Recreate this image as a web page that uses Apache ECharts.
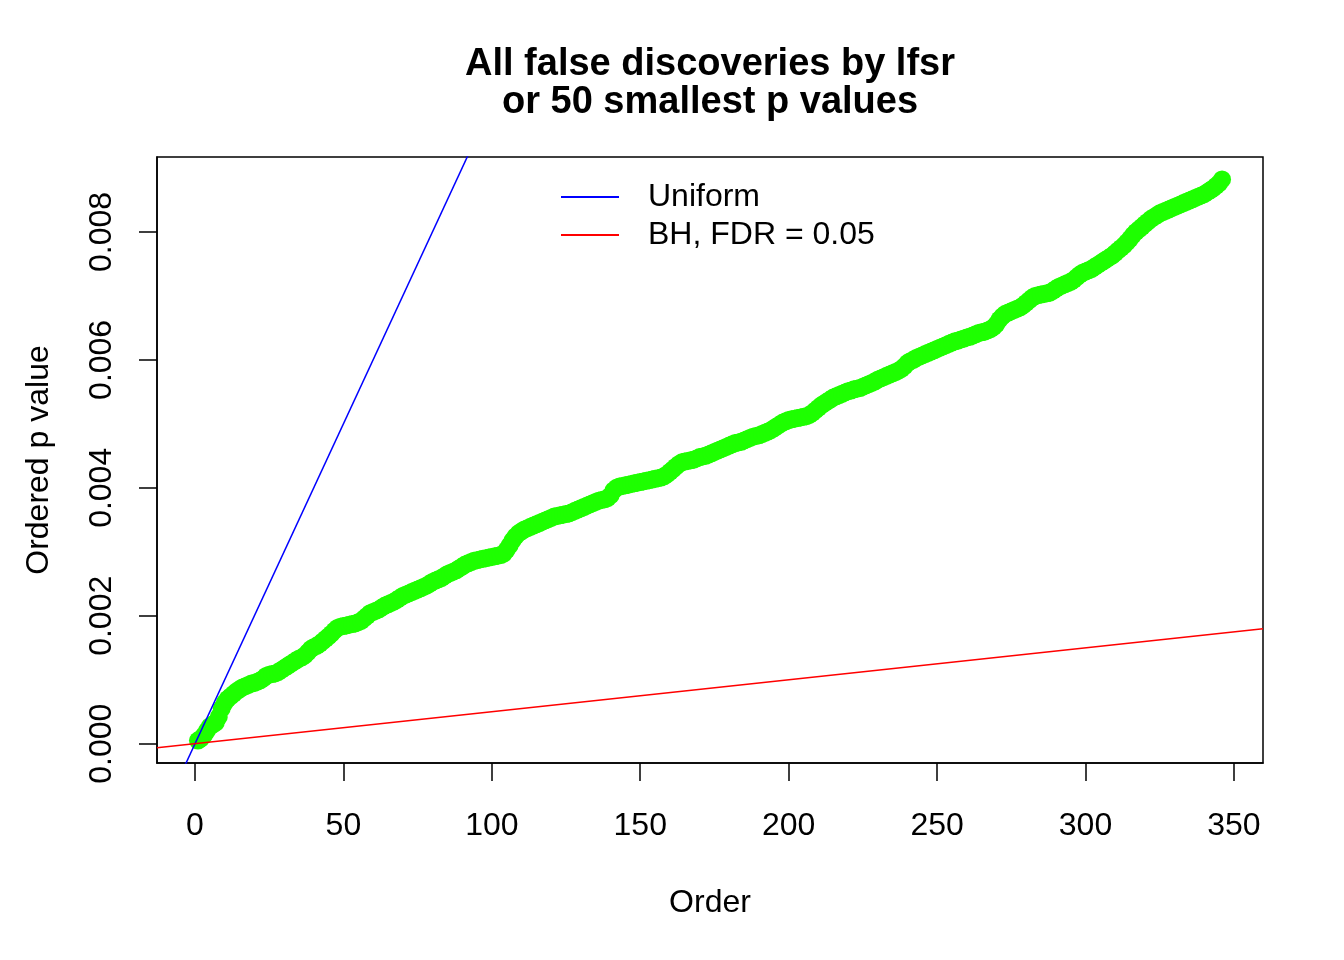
<!DOCTYPE html>
<html>
<head>
<meta charset="utf-8">
<script src="https://cdn.jsdelivr.net/npm/echarts@6/dist/echarts.min.js"></script>
<style>
html,body{margin:0;padding:0;background:#fff;}
#chart{width:1344px;height:960px;}
</style>
</head>
<body>
<div id="chart"></div>
<script>
// Ordered p values (rank 1..346)
const pValues = [
0.00005,0.00008,0.00013,0.00020,0.00027,0.00030,0.00033,0.00042,0.00055,0.00064,
0.00070,0.00074,0.00078,0.00082,0.00085,0.00088,0.00090,0.00092,0.00094,0.00095,
0.00097,0.00099,0.00102,0.00106,0.00108,0.00109,0.00110,0.00112,0.00115,0.00118,
0.00121,0.00124,0.00127,0.00130,0.00133,0.00135,0.00138,0.00143,0.00148,0.00151,
0.00153,0.00156,0.00160,0.00164,0.00168,0.00172,0.00177,0.00181,0.00183,0.00184,
0.00185,0.00186,0.00187,0.00188,0.00190,0.00192,0.00196,0.00200,0.00204,0.00206,
0.00208,0.00210,0.00213,0.00216,0.00218,0.00220,0.00222,0.00225,0.00228,0.00231,
0.00233,0.00235,0.00237,0.00239,0.00241,0.00243,0.00245,0.00247,0.00250,0.00253,
0.00255,0.00257,0.00259,0.00262,0.00265,0.00267,0.00269,0.00271,0.00274,0.00277,
0.00280,0.00282,0.00284,0.00286,0.00287,0.00288,0.00289,0.00290,0.00291,0.00292,
0.00293,0.00294,0.00295,0.00297,0.00303,0.00310,0.00318,0.00324,0.00329,0.00332,
0.00335,0.00337,0.00339,0.00341,0.00343,0.00345,0.00347,0.00349,0.00351,0.00353,
0.00355,0.00356,0.00357,0.00358,0.00359,0.00360,0.00362,0.00364,0.00366,0.00368,
0.00370,0.00372,0.00374,0.00376,0.00378,0.00380,0.00381,0.00382,0.00384,0.00388,
0.00396,0.00400,0.00402,0.00403,0.00404,0.00405,0.00406,0.00407,0.00408,0.00409,
0.00410,0.00411,0.00412,0.00413,0.00414,0.00415,0.00416,0.00418,0.00421,0.00425,
0.00429,0.00433,0.00437,0.00440,0.00441,0.00442,0.00443,0.00444,0.00446,0.00448,
0.00449,0.00450,0.00452,0.00454,0.00456,0.00458,0.00460,0.00462,0.00464,0.00466,
0.00468,0.00470,0.00471,0.00472,0.00474,0.00476,0.00478,0.00480,0.00481,0.00482,
0.00484,0.00486,0.00488,0.00490,0.00493,0.00496,0.00499,0.00502,0.00504,0.00506,
0.00507,0.00508,0.00509,0.00510,0.00511,0.00512,0.00514,0.00517,0.00521,0.00525,
0.00529,0.00532,0.00535,0.00538,0.00541,0.00543,0.00545,0.00547,0.00549,0.00551,
0.00552,0.00554,0.00555,0.00556,0.00558,0.00560,0.00562,0.00564,0.00566,0.00569,
0.00571,0.00573,0.00575,0.00577,0.00579,0.00581,0.00583,0.00586,0.00590,0.00595,
0.00598,0.00600,0.00603,0.00605,0.00607,0.00609,0.00611,0.00613,0.00615,0.00617,
0.00619,0.00621,0.00623,0.00625,0.00627,0.00629,0.00630,0.00632,0.00633,0.00635,
0.00636,0.00638,0.00640,0.00642,0.00643,0.00644,0.00646,0.00648,0.00651,0.00656,
0.00663,0.00668,0.00672,0.00674,0.00676,0.00678,0.00680,0.00682,0.00685,0.00689,
0.00693,0.00697,0.00700,0.00701,0.00702,0.00703,0.00704,0.00705,0.00708,0.00711,
0.00714,0.00716,0.00718,0.00720,0.00722,0.00725,0.00729,0.00733,0.00736,0.00738,
0.00740,0.00742,0.00745,0.00748,0.00751,0.00754,0.00757,0.00760,0.00763,0.00767,
0.00771,0.00775,0.00779,0.00784,0.00789,0.00795,0.00800,0.00804,0.00808,0.00812,
0.00816,0.00820,0.00823,0.00826,0.00829,0.00831,0.00833,0.00835,0.00837,0.00839,
0.00841,0.00843,0.00845,0.00847,0.00849,0.00851,0.00853,0.00855,0.00857,0.00859,
0.00862,0.00865,0.00868,0.00872,0.00876,0.00882
];
const nTests = 10000;
const fdrLevel = 0.05;
const xTicks = [0, 50, 100, 150, 200, 250, 300, 350];
const yTicks = [0, 0.002, 0.004, 0.006, 0.008];
const titleLines = ['All false discoveries by lfsr', 'or 50 smallest p values'];
const legendNames = ['Uniform', 'BH, FDR = 0.05'];

// R-style 4% axis padding
const n = pValues.length;
const xMin = 1 - 0.04 * (n - 1), xMax = n + 0.04 * (n - 1);
const pMin = Math.min(...pValues), pMax = Math.max(...pValues);
const yMin = pMin - 0.04 * (pMax - pMin), yMax = pMax + 0.04 * (pMax - pMin);

const FONT = '"Liberation Sans", Arial, Helvetica, sans-serif';
const chart = echarts.init(document.getElementById('chart'), null, {renderer: 'canvas'});
chart.setOption({
  animation: false,
  backgroundColor: '#fff',
  graphic: titleLines.map((t, i) => ({
    type: 'text', x: 710, y: 65 + i * 38,
    style: {text: t, font: 'bold 38px ' + FONT, textAlign: 'center', textVerticalAlign: 'middle', fill: '#000'}
  })),
  legend: {
    data: legendNames,
    orient: 'vertical', left: 561, top: 178, padding: 0,
    itemWidth: 58, itemHeight: 2, itemGap: 0, icon: 'rect',
    selectedMode: false,
    textStyle: {fontFamily: FONT, fontSize: 32, color: '#000', lineHeight: 35, padding: [3, 0, 0, 24]}
  },
  grid: {left: 157, right: 81, top: 157, bottom: 197, show: true, borderColor: '#000', borderWidth: 1.5, containLabel: false},
  xAxis: {
    type: 'value', min: xMin, max: xMax,
    name: 'Order', nameLocation: 'middle', nameGap: 124,
    nameTextStyle: {fontFamily: FONT, fontSize: 32, color: '#000'},
    axisLine: {show: true, onZero: false, lineStyle: {color: '#000', width: 1.5}},
    axisTick: {show: true, customValues: xTicks, length: 18, lineStyle: {color: '#000', width: 1.5}},
    axisLabel: {customValues: xTicks, fontFamily: FONT, fontSize: 32, color: '#000', margin: 47},
    splitLine: {show: false}
  },
  yAxis: {
    type: 'value', min: yMin, max: yMax,
    name: 'Ordered p value', nameLocation: 'middle', nameGap: 102, nameRotate: 90,
    nameTextStyle: {fontFamily: FONT, fontSize: 32, color: '#000'},
    axisLine: {show: true, onZero: false, lineStyle: {color: '#000', width: 1.5}},
    axisTick: {show: true, customValues: yTicks, length: 18, lineStyle: {color: '#000', width: 1.5}},
    axisLabel: {customValues: yTicks, rotate: 90, fontFamily: FONT, fontSize: 32, color: '#000', margin: 39,
      formatter: v => v.toFixed(3)},
    splitLine: {show: false}
  },
  series: [
    {
      name: 'p values', type: 'scatter', z: 2,
      data: pValues.map((v, i) => [i + 1, v]),
      symbol: 'circle', symbolSize: 18,
      itemStyle: {color: '#1eff00', opacity: 1}
    },
    {
      name: legendNames[0], type: 'line', z: 3, clip: true,
      data: [[xMin, xMin / nTests], [xMax, xMax / nTests]],
      symbol: 'none', color: '#0000ff',
      lineStyle: {color: '#0000ff', width: 1.5}
    },
    {
      name: legendNames[1], type: 'line', z: 3, clip: true,
      data: [[xMin, fdrLevel * xMin / nTests], [xMax, fdrLevel * xMax / nTests]],
      symbol: 'none', color: '#ff0000',
      lineStyle: {color: '#ff0000', width: 1.5}
    }
  ]
});
</script>
</body>
</html>
